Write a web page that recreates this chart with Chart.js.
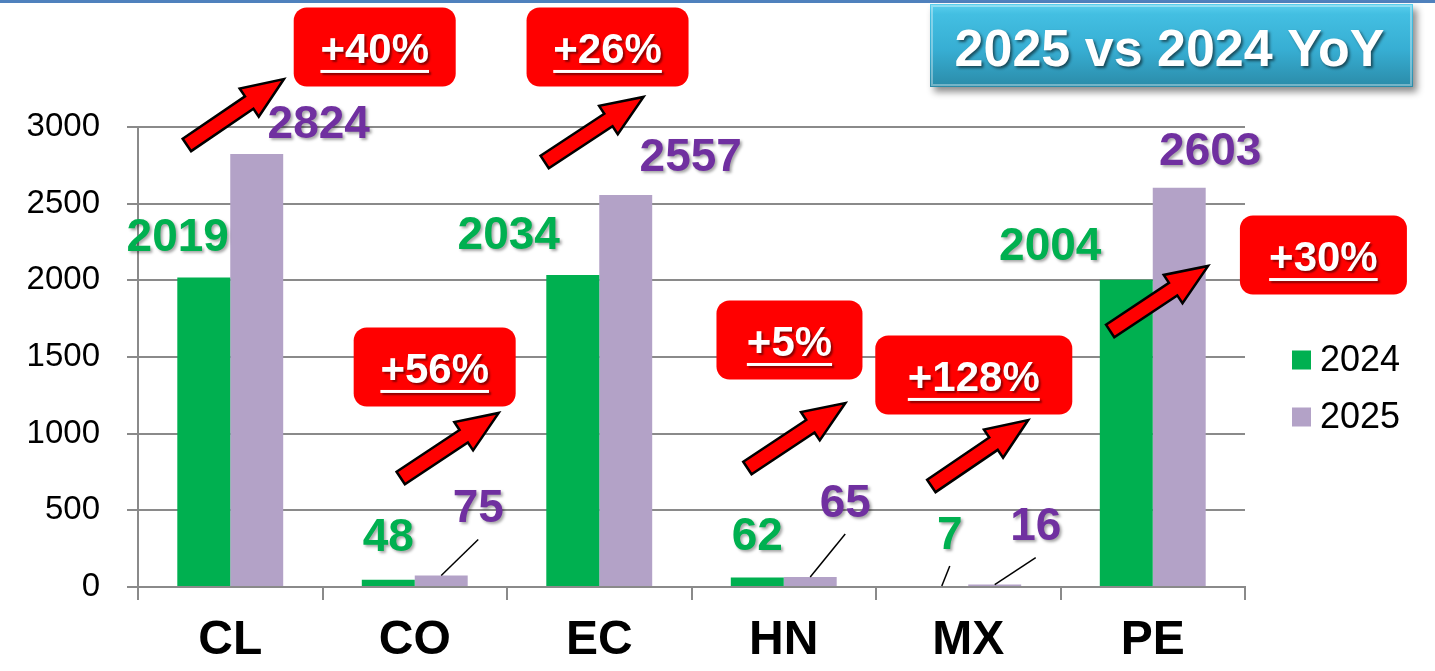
<!DOCTYPE html>
<html>
<head>
<meta charset="utf-8">
<script src="https://cdn.jsdelivr.net/npm/chart.js@4/dist/chart.umd.min.js"></script>
<style>
  html, body { margin: 0; padding: 0; background: #fff; }
  #wrap { position: relative; width: 1435px; height: 671px; }
</style>
</head>
<body>
<div id="wrap"><canvas id="yoy"></canvas></div>
<script>
const countries = ['CL', 'CO', 'EC', 'HN', 'MX', 'PE'];
const seriesNames = ['2024', '2025'];
const values2024 = [2019, 48, 2034, 62, 7, 2004];
const values2025 = [2824, 75, 2557, 65, 16, 2603];
const yTicks = [0, 500, 1000, 1500, 2000, 2500, 3000];
const growthLabels = ['+40%', '+56%', '+26%', '+5%', '+128%', '+30%'];
const titleText = '2025 vs 2024 YoY';

const FONT = '"Liberation Sans", Arial, Helvetica, sans-serif';
const barColors = ['#00B050', '#B3A2C7'];
const labelColors = ['#00B050', '#7030A0'];
const gridColor = '#8a8a8a';

// value label offsets from the top-centre of each bar (px)
const labelNudge = [
  [[-26, -39], [0, -41], [-64, -39], [0, -40], [8, -50], [-76, -32]],
  [[62, -29], [37, -66], [65, -37], [35, -73], [41, -57], [31, -36]]
];
const leaderLines = [
  [false, false, false, false, true, false],
  [false, true, false, true, true, false]
];

// growth callouts, placed in axis units (category index, value)
const calloutBoxes = [
  { x: 0.783, y: 3522, w: 162 },
  { x: 1.108, y: 1435, w: 162 },
  { x: 2.045, y: 3522, w: 162 },
  { x: 3.031, y: 1611, w: 146 },
  { x: 4.030, y: 1383, w: 197 },
  { x: 5.925, y: 2165, w: 167 }
];
const calloutArrows = [
  { from: [-0.235, 2883], to: [0.291, 3313] },
  { from: [0.924, 711], to: [1.455, 1135] },
  { from: [1.704, 2772], to: [2.240, 3196] },
  { from: [2.803, 776], to: [3.334, 1200] },
  { from: [3.800, 659], to: [4.325, 1089] },
  { from: [4.769, 1670], to: [5.300, 2094] }
];

function noShadow(ctx) {
  ctx.shadowColor = 'transparent';
  ctx.shadowBlur = 0;
  ctx.shadowOffsetX = 0;
  ctx.shadowOffsetY = 0;
}

function drawArrow(ctx, x0, y0, x1, y1) {
  const ang = Math.atan2(y1 - y0, x1 - x0);
  const len = Math.hypot(x1 - x0, y1 - y0);
  const shaft = 7.5, head = 17, headLen = 42;
  ctx.save();
  ctx.translate(x0, y0);
  ctx.rotate(ang);
  ctx.beginPath();
  ctx.moveTo(0, -shaft);
  ctx.lineTo(len - headLen, -shaft);
  ctx.lineTo(len - headLen, -head);
  ctx.lineTo(len, 0);
  ctx.lineTo(len - headLen, head);
  ctx.lineTo(len - headLen, shaft);
  ctx.lineTo(0, shaft);
  ctx.closePath();
  ctx.fillStyle = '#FF0000';
  ctx.fill();
  ctx.lineJoin = 'miter';
  ctx.lineWidth = 2.5;
  ctx.strokeStyle = '#000';
  ctx.stroke();
  ctx.restore();
}

function drawCallout(ctx, cx, cy, w, text) {
  const h = 79;
  ctx.save();
  ctx.fillStyle = '#FF0000';
  ctx.beginPath();
  ctx.roundRect(cx - w / 2, cy - h / 2, w, h, 13);
  ctx.fill();
  ctx.font = 'bold 42px ' + FONT;
  ctx.textAlign = 'center';
  ctx.textBaseline = 'alphabetic';
  ctx.shadowColor = 'rgba(90,0,0,0.7)';
  ctx.shadowOffsetX = 2;
  ctx.shadowOffsetY = 2;
  ctx.shadowBlur = 2;
  ctx.fillStyle = '#fff';
  const base = cy + 16;
  ctx.fillText(text, cx, base);
  const tw = ctx.measureText(text).width;
  ctx.fillRect(cx - tw / 2, base + 7, tw, 3);
  ctx.restore();
}

const calloutPlugin = {
  id: 'callouts',
  afterDatasetsDraw(chart) {
    const { ctx, scales: { x, y } } = chart;
    ctx.save();

    // bar value labels, with leader lines for the short bars
    chart.data.datasets.forEach((ds, di) => {
      chart.getDatasetMeta(di).data.forEach((bar, i) => {
        const [dx, dy] = labelNudge[di][i];
        const lx = bar.x + dx, ly = bar.y + dy;
        if (leaderLines[di][i]) {
          noShadow(ctx);
          ctx.strokeStyle = '#000';
          ctx.lineWidth = 1.5;
          ctx.beginPath();
          ctx.moveTo(bar.x, bar.y);
          ctx.lineTo(lx, ly + 30);
          ctx.stroke();
        }
        ctx.font = 'bold 46px ' + FONT;
        ctx.textAlign = 'center';
        ctx.textBaseline = 'middle';
        ctx.shadowColor = 'rgba(0,0,0,0.35)';
        ctx.shadowOffsetX = 2;
        ctx.shadowOffsetY = 2;
        ctx.shadowBlur = 3;
        ctx.fillStyle = labelColors[di];
        ctx.fillText(String(ds.data[i]), lx, ly);
      });
    });
    noShadow(ctx);

    calloutArrows.forEach((a) => {
      drawArrow(ctx,
        x.getPixelForValue(a.from[0]), y.getPixelForValue(a.from[1]),
        x.getPixelForValue(a.to[0]), y.getPixelForValue(a.to[1]));
    });
    calloutBoxes.forEach((b, i) => {
      drawCallout(ctx, x.getPixelForValue(b.x), y.getPixelForValue(b.y), b.w, growthLabels[i]);
    });
    ctx.restore();
  },
  afterDraw(chart) {
    const { ctx, chartArea } = chart;
    ctx.save();

    // thin rule along the top edge
    ctx.fillStyle = '#4F81BD';
    ctx.fillRect(0, 0, chart.width, 3);

    // legend
    const lx = chartArea.right + 47;
    ctx.font = '36px ' + FONT;
    ctx.textAlign = 'left';
    ctx.textBaseline = 'middle';
    seriesNames.forEach((name, i) => {
      const cy = 360 + i * 57;
      ctx.fillStyle = barColors[i];
      ctx.fillRect(lx, cy - 9.5, 19, 19);
      ctx.fillStyle = '#000';
      ctx.fillText(name, lx + 28, cy + 1);
    });

    // title badge
    const bx = 930, by = 4, bw = 483, bh = 83;
    ctx.shadowColor = 'rgba(0,0,0,0.45)';
    ctx.shadowOffsetX = 4;
    ctx.shadowOffsetY = 5;
    ctx.shadowBlur = 7;
    const g = ctx.createLinearGradient(0, by, 0, by + bh);
    g.addColorStop(0, '#5BD0EE');
    g.addColorStop(0.12, '#43BFE2');
    g.addColorStop(0.55, '#37AED3');
    g.addColorStop(1, '#2B8BA8');
    ctx.fillStyle = g;
    ctx.fillRect(bx, by, bw, bh);
    noShadow(ctx);
    ctx.strokeStyle = 'rgba(255,255,255,0.35)';
    ctx.lineWidth = 2;
    ctx.strokeRect(bx + 2, by + 2, bw - 4, bh - 4);
    ctx.font = 'bold 52px ' + FONT;
    ctx.textAlign = 'center';
    ctx.textBaseline = 'alphabetic';
    ctx.shadowColor = 'rgba(0,0,0,0.55)';
    ctx.shadowOffsetX = 2;
    ctx.shadowOffsetY = 2;
    ctx.shadowBlur = 3;
    ctx.fillStyle = '#fff';
    ctx.fillText(titleText, bx + bw / 2 - 2, by + 62);
    ctx.restore();
  }
};

new Chart(document.getElementById('yoy'), {
  type: 'bar',
  data: {
    labels: countries,
    datasets: [
      { label: seriesNames[0], data: values2024, backgroundColor: barColors[0] },
      { label: seriesNames[1], data: values2025, backgroundColor: barColors[1] }
    ]
  },
  options: {
    responsive: true,
    maintainAspectRatio: false,
    animation: false,
    layout: { padding: { top: 127, right: 190, bottom: 0, left: 0 } },
    datasets: { bar: { categoryPercentage: 0.574, barPercentage: 1 } },
    plugins: { legend: { display: false }, tooltip: { enabled: false } },
    scales: {
      x: {
        afterFit: (s) => { s.height = 84; },
        grid: { offset: true, drawOnChartArea: false, tickLength: 13, color: gridColor, lineWidth: 2 },
        border: { color: gridColor, width: 2 },
        ticks: {
          autoSkip: false,
          maxRotation: 0,
          padding: 12,
          color: '#000',
          font: { family: FONT, size: 48, weight: 'bold' }
        }
      },
      y: {
        min: yTicks[0],
        max: yTicks[yTicks.length - 1],
        afterFit: (s) => { s.width = 138; },
        afterBuildTicks: (s) => { s.ticks = yTicks.map((v) => ({ value: v })); },
        grid: { tickLength: 11, color: gridColor, lineWidth: 2 },
        border: { color: gridColor, width: 2 },
        ticks: {
          padding: 27,
          color: '#000',
          font: { family: FONT, size: 33 },
          callback: (v) => String(v)
        }
      }
    }
  },
  plugins: [calloutPlugin]
});
</script>
</body>
</html>
